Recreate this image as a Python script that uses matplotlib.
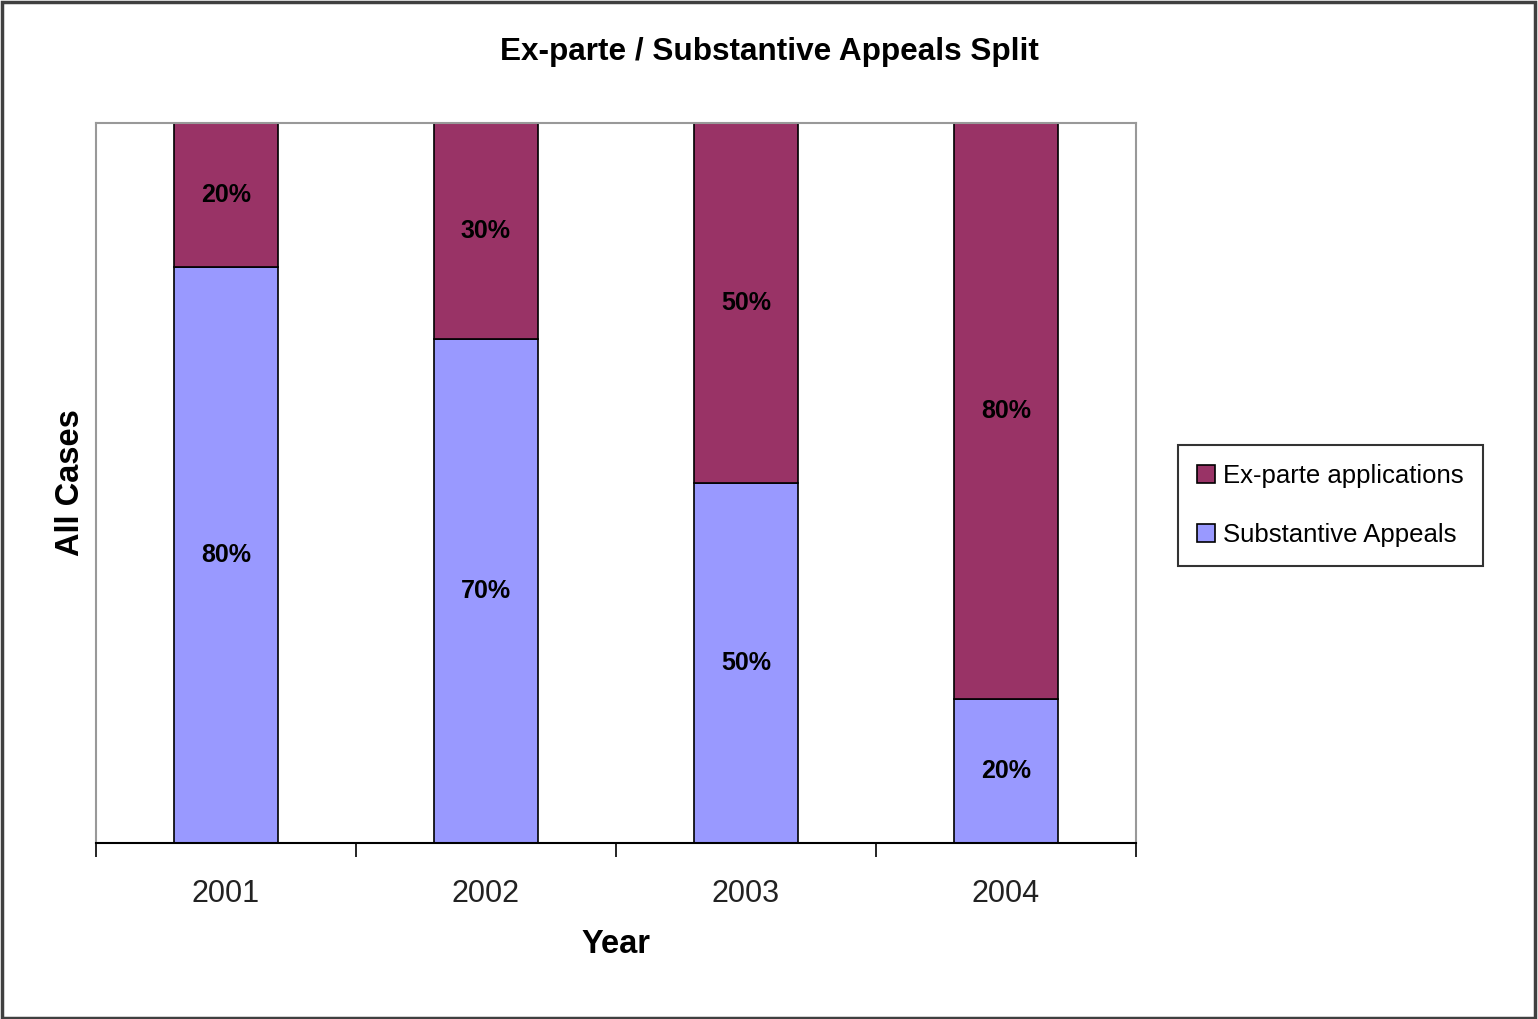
import matplotlib.pyplot as plt
from matplotlib.patches import Rectangle
import numpy as np

years = ['2001', '2002', '2003', '2004']
substantive = [80, 70, 50, 20]
exparte = [20, 30, 50, 80]

plt.rcParams['font.family'] = ['Liberation Sans', 'DejaVu Sans']

fig = plt.figure(figsize=(15.38, 10.19), dpi=100)
ax = fig.add_axes([0.0624, 0.1727, 0.6762, 0.7066])

x = np.arange(len(years))
b1 = ax.bar(x, substantive, width=0.4, color='#9999FF', edgecolor='black',
            linewidth=1.2, label='Substantive Appeals')
b2 = ax.bar(x, exparte, width=0.4, bottom=substantive, color='#993366',
            edgecolor='black', linewidth=1.2, label='Ex-parte applications')

# etiquetas dentro de las barras
for i in range(len(years)):
    ax.text(x[i], substantive[i] / 2, f'{substantive[i]}%', ha='center', va='center',
            fontsize=18, fontweight='bold', family=['Liberation Sans Narrow', 'Liberation Sans'])
    ax.text(x[i], substantive[i] + exparte[i] / 2, f'{exparte[i]}%', ha='center', va='center',
            fontsize=18, fontweight='bold', family=['Liberation Sans Narrow', 'Liberation Sans'])

ax.set_xlim(-0.5, len(years) - 0.5)
ax.set_ylim(0, 100)
ax.set_yticks([])
ax.set_xticks(np.arange(-0.5, len(years), 1.0))
ax.set_xticklabels([])
ax.set_xticks(x, minor=True)
ax.set_xticklabels(years, minor=True, fontsize=22, color='#222222')
ax.tick_params(axis='x', which='major', length=10, width=1.2, direction='out')
ax.tick_params(axis='x', which='minor', length=0, pad=26)

for s in ['top', 'left', 'right']:
    ax.spines[s].set_color('#999999')
    ax.spines[s].set_linewidth(1.5)
ax.spines['bottom'].set_color('black')
ax.spines['bottom'].set_linewidth(1.5)

fig.text(0.5, 1 - 52 / 1019, 'Ex-parte / Substantive Appeals Split', ha='center', va='center',
         fontsize=22.7, fontweight='bold')
ax.set_xlabel('Year', fontsize=23.5, fontweight='bold', labelpad=14)
ax.set_ylabel('All Cases', fontsize=23.5, fontweight='bold', labelpad=7)

leg = fig.legend(handles=[b2, b1], loc='upper left',
                 bbox_to_anchor=(1178 / 1538, 1 - 445 / 1019),
                 fontsize=18.5, frameon=True, fancybox=False, edgecolor='black',
                 handlelength=0.7, handleheight=0.7, handletextpad=0.3,
                 labelspacing=1.35, borderpad=0.75, borderaxespad=0)
leg.get_frame().set_linewidth(1.5)

fig.patches.append(Rectangle((0.001, 0.001), 0.997, 0.997, transform=fig.transFigure,
                             fill=False, edgecolor='#404040', linewidth=2.5))

fig.savefig('out.png', dpi=100)
